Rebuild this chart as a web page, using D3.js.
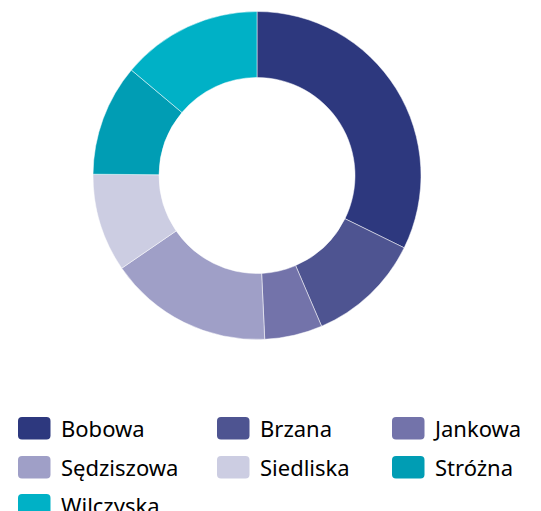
<!DOCTYPE html>
<html>
<head>
<meta charset="utf-8">
<script src="https://cdn.jsdelivr.net/npm/d3@7"></script>
<style>
  html, body { margin: 0; padding: 0; background: #fff; }
  svg { display: block; }
</style>
</head>
<body>
<svg id="chart" width="541" height="511"></svg>
<script>
// share of each village (%)
var names = ['Bobowa', 'Brzana', 'Jankowa', 'Sędziszowa', 'Siedliska', 'Stróżna', 'Wilczyska'];
var shares = [32.3, 11.3, 5.7, 16.2, 9.7, 11.0, 13.9];
var colours = ['#2d387e', '#4e5491', '#7373aa', '#9f9fc7', '#cccde2', '#009db4', '#00b1c6'];

var width = 541, height = 511;
var cx = 257, cy = 175.5, outerR = 164, innerR = 98;

var svg = d3.select('#chart');

var color = d3.scaleOrdinal().domain(names).range(colours);

var pie = d3.pie()
    .sort(null)
    .value(function(d) { return d.v; });

var arc = d3.arc()
    .innerRadius(innerR)
    .outerRadius(outerR);

var data = names.map(function(n, i) { return {name: n, v: shares[i]}; });

var g = svg.append('g').attr('transform', 'translate(' + cx + ',' + cy + ')');

g.selectAll('path')
    .data(pie(data))
    .enter().append('path')
    .attr('d', arc)
    .attr('fill', function(d) { return color(d.data.name); })
    .attr('stroke', '#fff')
    .attr('stroke-width', 0.5);

// legend, 3 columns (last row runs off the bottom like the original)
var colX = [18, 217, 392], rowY = [417, 456, 494];
var legend = svg.append('g').attr('class', 'legend');

var item = legend.selectAll('g')
    .data(names)
    .enter().append('g')
    .attr('transform', function(d, i) {
        return 'translate(' + colX[i % 3] + ',' + rowY[Math.floor(i / 3)] + ')';
    });

item.append('rect')
    .attr('width', 32.5)
    .attr('height', 22.5)
    .attr('rx', 4)
    .attr('fill', function(d) { return color(d); });

item.append('text')
    .attr('x', 43)
    .attr('y', 20)
    .style('font-family', '"Noto Sans", sans-serif')
    .style('font-size', '22px')
    .style('fill', '#000')
    .text(function(d) { return d; });
</script>
</body>
</html>
